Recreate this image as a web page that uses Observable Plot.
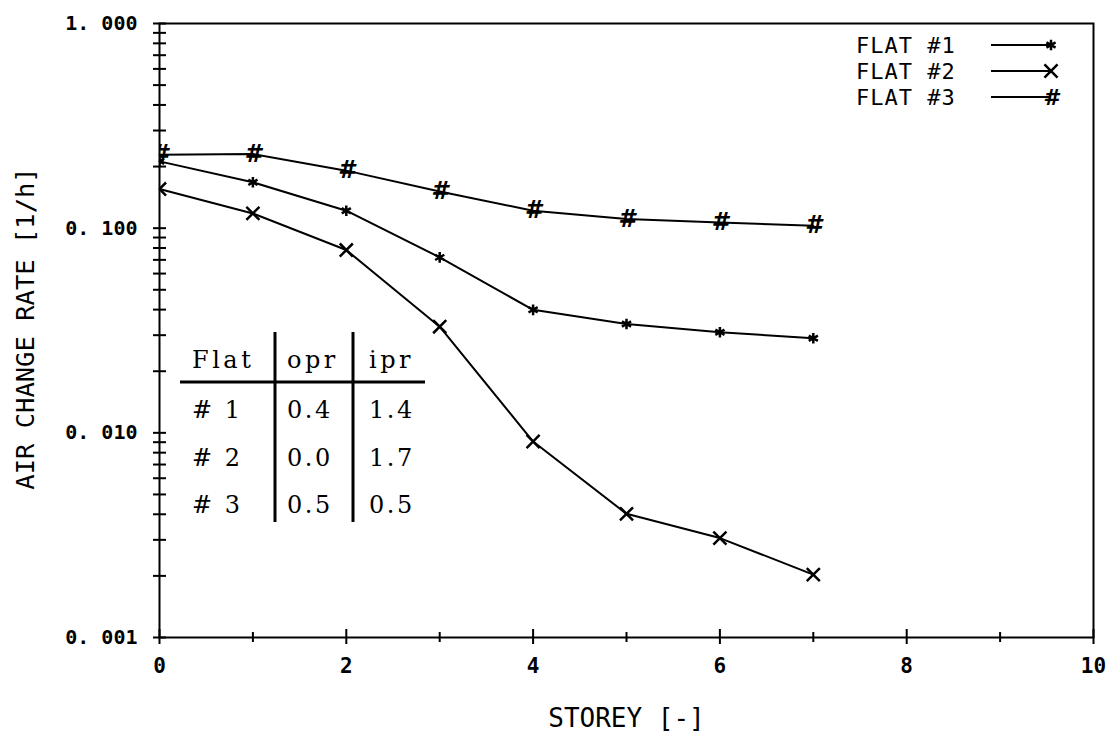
<!DOCTYPE html>
<html>
<head>
<meta charset="utf-8">
<script src="https://cdn.jsdelivr.net/npm/d3@7"></script>
<script src="https://cdn.jsdelivr.net/npm/@observablehq/plot@0.6"></script>
<style>
  html, body { margin: 0; padding: 0; background: #fff; }
  #chart svg { display: block; }
</style>
</head>
<body>
<div id="chart"></div>
<script>
// ---- data ----
const storeys = [0, 1, 2, 3, 4, 5, 6, 7];
const flat1 = [0.212, 0.1675, 0.1217, 0.072, 0.0399, 0.034, 0.031, 0.029];
const flat2 = [0.1553, 0.118, 0.0782, 0.033, 0.00907, 0.00402, 0.00306, 0.00203];
const flat3 = [0.2286, 0.2303, 0.191, 0.151, 0.1217, 0.111, 0.1067, 0.1028];
const seriesNames = ["FLAT #1", "FLAT #2", "FLAT #3"];
const xMajorTicks = [0, 2, 4, 6, 8, 10];
const xMinorTicks = [1, 3, 5, 7, 9];
const yMajorTicks = [0.001, 0.01, 0.1, 1];
const yMinorFactors = [2, 3, 4, 5, 6, 7, 8, 9];
const tableHeader = ["Flat", "opr", "ipr"];
const tableRows = [["# 1", "0.4", "1.4"], ["# 2", "0.0", "1.7"], ["# 3", "0.5", "0.5"]];
const xTitle = "STOREY [-]";
const yTitle = "AIR CHANGE RATE [1/h]";

// ---- build table ----
const seriesValues = [flat1, flat2, flat3];
const rows = [];
seriesNames.forEach((name, i) => storeys.forEach((s, j) => rows.push({series: name, storey: s, value: seriesValues[i][j]})));
const yMinorTicks = [];
yMajorTicks.slice(0, -1).forEach(d => yMinorFactors.forEach(f => yMinorTicks.push(d * f)));
const yAllTicks = yMajorTicks.concat(yMinorTicks);

const W = 1116, H = 732;
const mL = 159, mR = 23, mT = 23, mB = 95;
const pW = W - mL - mR, pH = H - mT - mB;
const mono = "DejaVu Sans Mono";

const svg = Plot.plot({
  width: W, height: H,
  marginLeft: mL, marginRight: mR, marginTop: mT, marginBottom: mB,
  style: {background: "#fff", color: "#000"},
  x: {domain: [0, 10]},
  y: {type: "log", domain: [0.001, 1]},
  marks: [
    Plot.frame({stroke: "#000", strokeWidth: 2}),
    // crossing ticks
    Plot.ruleX(xMajorTicks, {x: d => d, insetTop: pH - 8, insetBottom: -7, stroke: "#000", strokeWidth: 2}),
    Plot.ruleX(xMinorTicks, {x: d => d, insetTop: pH - 5, insetBottom: -5, stroke: "#000", strokeWidth: 2}),
    Plot.ruleY(yAllTicks, {y: d => d, insetLeft: -6, insetRight: pW - 7, stroke: "#000", strokeWidth: 2}),
    // tick labels
    Plot.axisX(xMajorTicks, {anchor: "bottom", tickSize: 0, tickPadding: 21, label: null,
      fontSize: 21, fontWeight: "bold", fontFamily: mono, tickFormat: d => String(d)}),
    Plot.axisY(yMajorTicks, {anchor: "left", tickSize: 0, tickPadding: 22, label: null,
      fontSize: 20, fontWeight: "bold", fontFamily: mono, tickFormat: d => d3.format(".3f")(d).replace(".", ". ")}),
    // series
    Plot.line(rows, {x: "storey", y: "value", z: "series", stroke: "#000", strokeWidth: 2}),
    Plot.dot(rows.filter(d => d.series === seriesNames[0]), {x: "storey", y: "value", symbol: "asterisk", r: 5, stroke: "#000", strokeWidth: 2.5, clip: true}),
    Plot.dot(rows.filter(d => d.series === seriesNames[1]), {x: "storey", y: "value", symbol: "times", r: 6, stroke: "#000", strokeWidth: 2.5, clip: true}),
    Plot.text(rows.filter(d => d.series === seriesNames[2]), {x: "storey", y: "value", text: () => "#", fontSize: 24, fontWeight: "bold", fontStyle: "italic", fontFamily: "DejaVu Sans", fill: "#000", clip: true}),
    // axis titles
    Plot.text([xTitle], {frameAnchor: "bottom", dy: 89, text: d => d, fontSize: 26, fontFamily: mono, fill: "#000"}),
    Plot.text([yTitle], {frameAnchor: "left", textAnchor: "middle", dx: -134, dy: -2, rotate: -90, text: d => d, fontSize: 25.5, fontFamily: mono, fill: "#000"})
  ]
});

// ---- legend (inside, top right) ----
const sel = d3.select(svg);
const leg = sel.append("g").attr("font-family", mono).attr("font-size", 22).attr("text-anchor", "start");
const legendRowsY = [45, 71, 97];
const symbols = [d3.symbolAsterisk, d3.symbolTimes, null];
const symbolR = [5, 6, 0];
seriesNames.forEach((name, i) => {
  const y = legendRowsY[i];
  leg.append("text").attr("x", 856).attr("y", y).attr("dy", "0.35em").attr("letter-spacing", "1px").text(name);
  leg.append("line").attr("x1", 991).attr("x2", 1051).attr("y1", y).attr("y2", y).attr("stroke", "#000").attr("stroke-width", 2);
  if (symbols[i]) {
    leg.append("path").attr("transform", `translate(1051,${y})`)
      .attr("d", d3.symbol(symbols[i], Math.PI * symbolR[i] * symbolR[i])())
      .attr("fill", "none").attr("stroke", "#000").attr("stroke-width", 2.5);
  } else {
    leg.append("text").attr("x", 1051).attr("y", y).attr("dy", "0.35em").attr("text-anchor", "middle")
      .attr("font-family", "DejaVu Sans").attr("font-weight", "bold").attr("font-style", "italic").attr("font-size", 22).text("#");
  }
});

// ---- inset table ----
const tbl = sel.append("g").attr("font-family", "DejaVu Serif").attr("font-size", 24).attr("text-anchor", "start");
const colX = [192, 287, 369];
tableHeader.forEach((h, j) => tbl.append("text").attr("x", colX[j]).attr("y", 368).attr("letter-spacing", "3.5px").text(h));
tableRows.forEach((r, i) => r.forEach((c, j) => {
  tbl.append("text").attr("x", colX[j]).attr("y", 418 + i * 47.5).attr("letter-spacing", "2.5px")
    .attr("xml:space", "preserve").style("white-space", "pre").text(c);
}));
tbl.append("line").attr("x1", 180).attr("x2", 425).attr("y1", 382).attr("y2", 382).attr("stroke", "#000").attr("stroke-width", 3);
[275, 353].forEach(x => tbl.append("line").attr("x1", x).attr("x2", x).attr("y1", 332).attr("y2", 522).attr("stroke", "#000").attr("stroke-width", 3));

document.getElementById("chart").appendChild(svg);
</script>
</body>
</html>
